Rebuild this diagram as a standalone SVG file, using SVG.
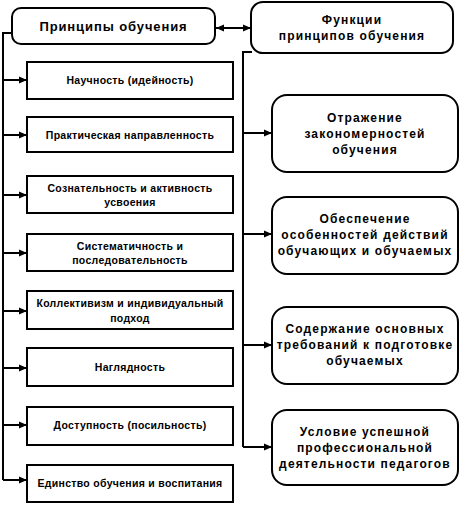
<svg xmlns="http://www.w3.org/2000/svg" width="460" height="512" viewBox="0 0 460 512">
<style>
.box{fill:#fff;stroke:#000;stroke-width:2}
.ln{fill:none;stroke:#000;stroke-width:2}
.t{font-family:"Liberation Sans",Arial,sans-serif;font-weight:bold;fill:#000;text-anchor:middle}
.s{font-size:10.5px;letter-spacing:0.3px}
.m{font-size:12px;letter-spacing:1.15px}
.h{font-size:13px;letter-spacing:0.9px}
</style>
<defs>
<marker id="ah" viewBox="0 0 8 8" refX="8" refY="4" markerWidth="8" markerHeight="8" markerUnits="userSpaceOnUse" orient="auto-start-reverse">
<path d="M0,0.5 L8,4 L0,7.5 Z" fill="#000"/>
</marker>
</defs>
<g id="connectors">
<path class="ln" d="M12,33 H3 V480"/>
<path class="ln" d="M3,80 H27" marker-end="url(#ah)"/>
<path class="ln" d="M3,135 H27" marker-end="url(#ah)"/>
<path class="ln" d="M3,195 H27" marker-end="url(#ah)"/>
<path class="ln" d="M3,253 H27" marker-end="url(#ah)"/>
<path class="ln" d="M3,311 H27" marker-end="url(#ah)"/>
<path class="ln" d="M3,368 H27" marker-end="url(#ah)"/>
<path class="ln" d="M3,425 H27" marker-end="url(#ah)"/>
<path class="ln" d="M3,480 H27" marker-end="url(#ah)"/>
<path class="ln" d="M216,28 H251" marker-start="url(#ah)" marker-end="url(#ah)"/>
<path class="ln" d="M252,52 H243 V447"/>
<path class="ln" d="M243,133 H272" marker-end="url(#ah)"/>
<path class="ln" d="M243,234 H272" marker-end="url(#ah)"/>
<path class="ln" d="M243,345 H272" marker-end="url(#ah)"/>
<path class="ln" d="M243,447 H272" marker-end="url(#ah)"/>
</g>
<g id="principles">
<rect class="box" x="12" y="8" width="203" height="36" rx="9"/>
<text class="t h" x="113.5" y="31">Принципы обучения</text>
</g>
<g id="functions">
<rect class="box" x="251" y="2" width="202" height="51" rx="12"/>
<text class="t m" x="352" y="24">Функции</text>
<text class="t m" x="352" y="40">принципов обучения</text>
</g>
<g id="p1"><rect class="box" x="27" y="62" width="206" height="37"/><text class="t s" x="130" y="84">Научность (идейность)</text></g>
<g id="p2"><rect class="box" x="27" y="117" width="206" height="35"/><text class="t s" x="130" y="139">Практическая направленность</text></g>
<g id="p3"><rect class="box" x="27" y="176" width="206" height="37"/><text class="t s" x="130" y="192">Сознательность и активность</text><text class="t s" x="130" y="206">усвоения</text></g>
<g id="p4"><rect class="box" x="27" y="234" width="206" height="37"/><text class="t s" x="130" y="250">Систематичность и</text><text class="t s" x="130" y="264">последовательность</text></g>
<g id="p5"><rect class="box" x="27" y="291" width="206" height="38"/><text class="t s" x="130" y="307">Коллективизм и индивидуальный</text><text class="t s" x="130" y="322">подход</text></g>
<g id="p6"><rect class="box" x="27" y="348" width="206" height="38"/><text class="t s" x="130" y="371">Наглядность</text></g>
<g id="p7"><rect class="box" x="27" y="407" width="206" height="38"/><text class="t s" x="130" y="429">Доступность (посильность)</text></g>
<g id="p8"><rect class="box" x="27" y="465" width="206" height="37"/><text class="t s" x="130" y="487">Единство обучения и воспитания</text></g>
<g id="f1"><rect class="box" x="272" y="95" width="186" height="77" rx="15"/><text class="t m" x="365" y="122">Отражение</text><text class="t m" x="365" y="138">закономерностей</text><text class="t m" x="365" y="154">обучения</text></g>
<g id="f2"><rect class="box" x="272" y="197" width="186" height="77" rx="15"/><text class="t m" x="365" y="223">Обеспечение</text><text class="t m" x="365" y="239">особенностей действий</text><text class="t m" x="365" y="255">обучающих и обучаемых</text></g>
<g id="f3"><rect class="box" x="272" y="307" width="186" height="77" rx="15"/><text class="t m" x="365" y="333">Содержание основных</text><text class="t m" x="365" y="349">требований к подготовке</text><text class="t m" x="365" y="365">обучаемых</text></g>
<g id="f4"><rect class="box" x="272" y="410" width="186" height="75" rx="15"/><text class="t m" x="365" y="436">Условие успешной</text><text class="t m" x="365" y="452">профессиональной</text><text class="t m" x="365" y="468">деятельности педагогов</text></g>
</svg>
